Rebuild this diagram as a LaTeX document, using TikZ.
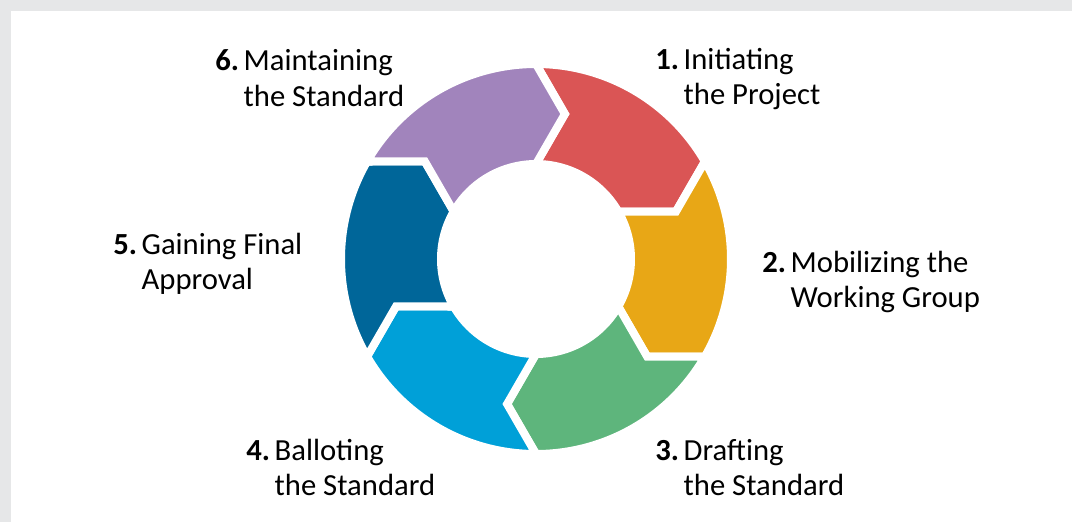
\documentclass[tikz,border=0pt]{standalone}
\usepackage{fontspec}
\setmainfont{Carlito}
\definecolor{framegray}{HTML}{E6E7E8}
\definecolor{stageone}{HTML}{DA5555}
\definecolor{stagetwo}{HTML}{E8A716}
\definecolor{stagethree}{HTML}{5EB57C}
\definecolor{stagefour}{HTML}{00A0D8}
\definecolor{stagefive}{HTML}{006699}
\definecolor{stagesix}{HTML}{A184BC}
\newcommand{\stagenum}[1]{\textbf{#1}\hspace{3.5pt}}
\begin{document}
\begin{tikzpicture}[x=0.75pt,y=0.75pt,
		ring/.style={draw=white, line width=6pt, line join=miter},
		stagelabel/.style={anchor=west, align=left, inner sep=0pt,
			font=\fontsize{23}{26.5}\selectfont}]
		
		\fill[framegray] (-536,-263) rectangle (536,259);
		\fill[white] (-525,-263) rectangle (536,248);
		
		\filldraw[ring, fill=stageone] (90:195) arc (90:30:195) -- (18.73:147.85)
		-- (30:95) arc (30:90:95) -- (78.73:147.85) -- cycle;
		
		\filldraw[ring, fill=stagetwo] (30:195) arc (30:-30:195) -- (-41.27:147.85)
		-- (-30:95) arc (-30:30:95) -- (18.73:147.85) -- cycle;
		
		\filldraw[ring, fill=stagethree] (-30:195) arc (-30:-90:195) -- (-101.27:147.85)
		-- (-90:95) arc (-90:-30:95) -- (-41.27:147.85) -- cycle;
		
		\filldraw[ring, fill=stagefour] (-90:195) arc (-90:-150:195) -- (-161.27:147.85)
		-- (-150:95) arc (-150:-90:95) -- (-101.27:147.85) -- cycle;
		
		\filldraw[ring, fill=stagefive] (-150:195) arc (-150:-210:195) -- (-221.27:147.85)
		-- (-210:95) arc (-210:-150:95) -- (-161.27:147.85) -- cycle;
		
		\filldraw[ring, fill=stagesix] (150:195) arc (150:90:195) -- (78.73:147.85)
		-- (90:95) arc (90:150:95) -- (138.73:147.85) -- cycle;
		
		\node[stagelabel] (lab1) at (119,180) {\stagenum{1.}Initiating\\\hphantom{\stagenum{1.}}the Project};
		
		\node[stagelabel] (lab2) at (226,-23) {\stagenum{2.}Mobilizing the\\\hphantom{\stagenum{2.}}Working Group};
		
		\node[stagelabel] (lab3) at (119,-208.5) {\stagenum{3.}Drafting\\\hphantom{\stagenum{3.}}the Standard};
		
		\node[stagelabel] (lab4) at (-290,-208.5) {\stagenum{4.}Balloting\\\hphantom{\stagenum{4.}}the Standard};
		
		\node[stagelabel] (lab5) at (-423,-4.5) {\stagenum{5.}Gaining Final\\\hphantom{\stagenum{5.}}Approval};
		
		\node[stagelabel] (lab6) at (-321,181) {\stagenum{6.}Maintaining\\\hphantom{\stagenum{6.}}the Standard};
		
	\end{tikzpicture}
\end{document}
